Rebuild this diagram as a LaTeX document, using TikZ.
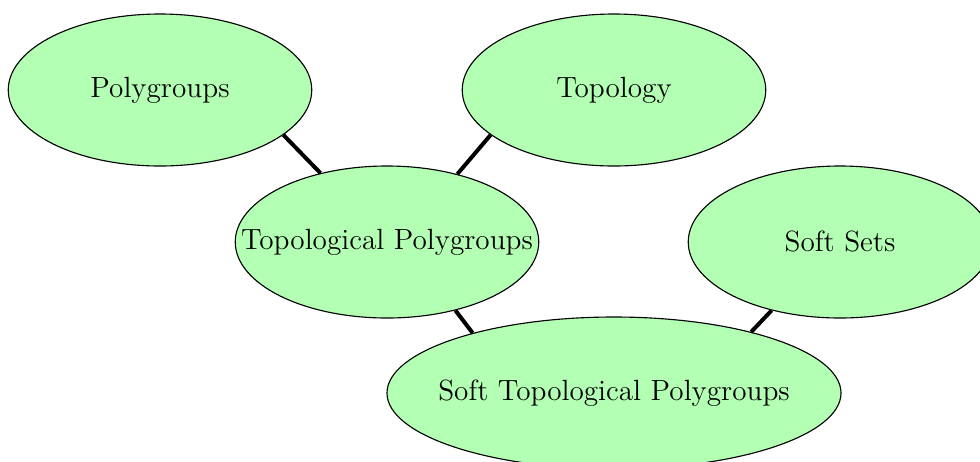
\documentclass[tikz,border=0pt]{standalone}
\usetikzlibrary{shapes.geometric}
\definecolor{blobfill}{RGB}{179,255,179}
\tikzset{
  blob/.style={ellipse, draw=black, line width=0.45pt, fill=blobfill, inner sep=0pt,
    minimum width=121.4pt, minimum height=60.8pt},
  widebob/.style={blob, minimum width=181.6pt},
  lbl/.style={font=\fontsize{11.7}{14}\selectfont, inner sep=0pt},
  link/.style={line width=1.6pt, black}
}
\begin{document}
\begin{tikzpicture}[x=0.4pt, y=-0.4pt]
\useasboundingbox (0,0) rectangle (980,461);
\clip (0,0) rectangle (980,461);
\node[blob] (pg) at (160,90) {};
\node[blob] (tp) at (614,90) {};
\node[blob] (tpg) at (387,242) {};
\node[blob] (ss) at (840,242) {};
\node[widebob] (stp) at (614,393) {};
\node[lbl] at (pg) {Polygroups};
\node[lbl] at (tp) {Topology};
\node[lbl] at (tpg) {Topological Polygroups};
\node[lbl] at (ss) {Soft Sets};
\node[lbl] at (stp) {Soft Topological Polygroups};
\draw[link] (pg.-20.2) -- (tpg.134);
\draw[link] (tp.200.8) -- (tpg.44.6);
\draw[link] (tpg.-45.4) -- (stp.157);
\draw[link] (ss.225.4) -- (stp.24.6);
\end{tikzpicture}
\end{document}
